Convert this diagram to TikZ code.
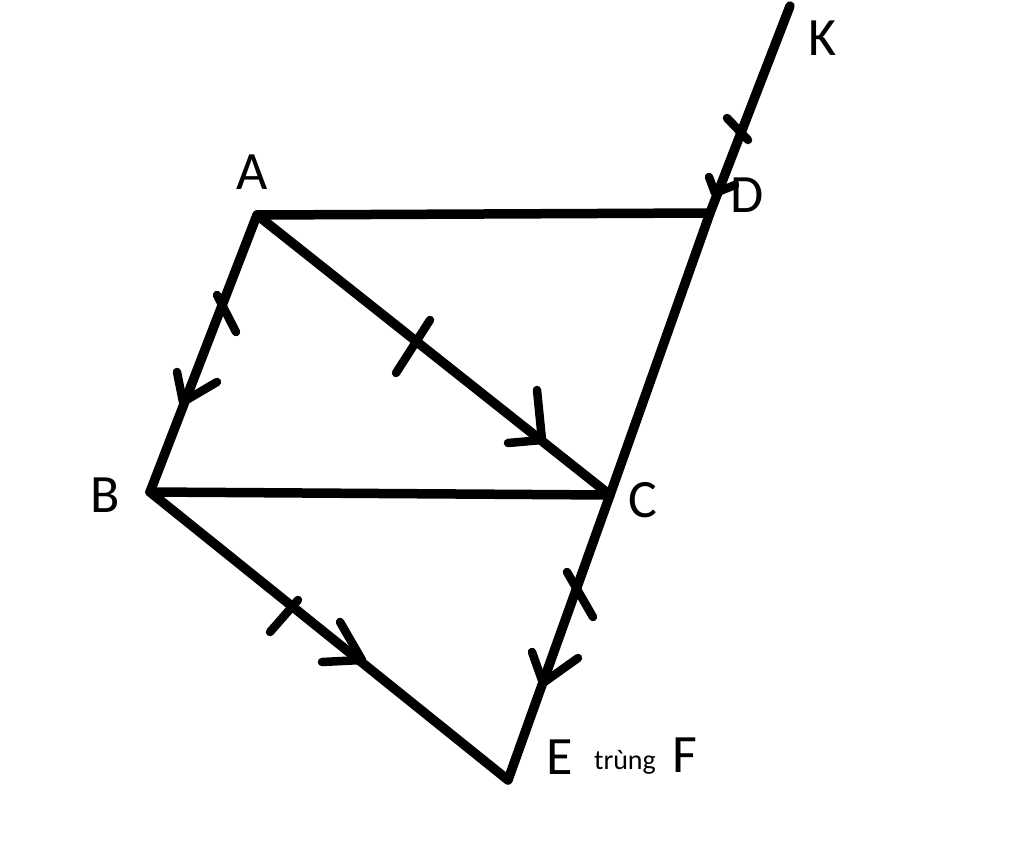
\documentclass[tikz,border=0pt]{standalone}
\usepackage{fontspec}
\setmainfont{Carlito}
\begin{document}
\begin{tikzpicture}[x=1pt,y=-1pt,
  seg/.style={line width=9.5pt,line cap=round,line join=round},
  tickln/.style={line width=8.5pt,line cap=round,line join=round},
  lbl/.style={font=\fontsize{54}{60}\selectfont,inner sep=0pt},
  small/.style={font=\fontsize{28}{32}\selectfont,inner sep=0pt}]
\useasboundingbox (0,0) rectangle (1024,867);
% vertices
\coordinate (A) at (257,215);
\coordinate (D) at (710,213);
\coordinate (B) at (150,492);
\coordinate (C) at (610,495);
\coordinate (E) at (508,780);
\coordinate (K) at (790,6);
% segments
\draw[seg] (A) -- (D);
\draw[seg] (A) -- (B);
\draw[seg] (A) -- (C);
\draw[seg] (B) -- (C);
\draw[seg] (B) -- (E);
\draw[seg] (K) -- (D) -- (C) -- (E);
% ticks
\draw[tickln] (727,118) -- (748,140);
\draw[tickln] (217,295) -- (236,332);
\draw[tickln] (430,320) -- (396,373);
\draw[tickln] (298,600) -- (270,632);
\draw[tickln] (567,572) -- (593,617);
% arrowheads
\draw[tickln] (709,177) -- (715,193) -- (735,185);
\draw[tickln] (177,372) -- (183,402) -- (217,382);
\draw[tickln] (537,390) -- (542,440) -- (508,443);
\draw[tickln] (340,622) -- (362,660) -- (322,662);
\draw[tickln] (532,652) -- (543,683) -- (578,658);
% labels
\node[lbl] (lA) at (252,172) {A};
\node[lbl] (lD) at (747,195) {D};
\node[lbl] (lK) at (823,38) {K};
\node[lbl] (lB) at (105,495) {B};
\node[lbl] (lC) at (643,500) {C};
\node[lbl] (lE) at (560,757) {E};
\node[small] (lt) at (625,762) {trùng};
\node[lbl] (lF) at (685,755) {F};
\end{tikzpicture}
\end{document}
